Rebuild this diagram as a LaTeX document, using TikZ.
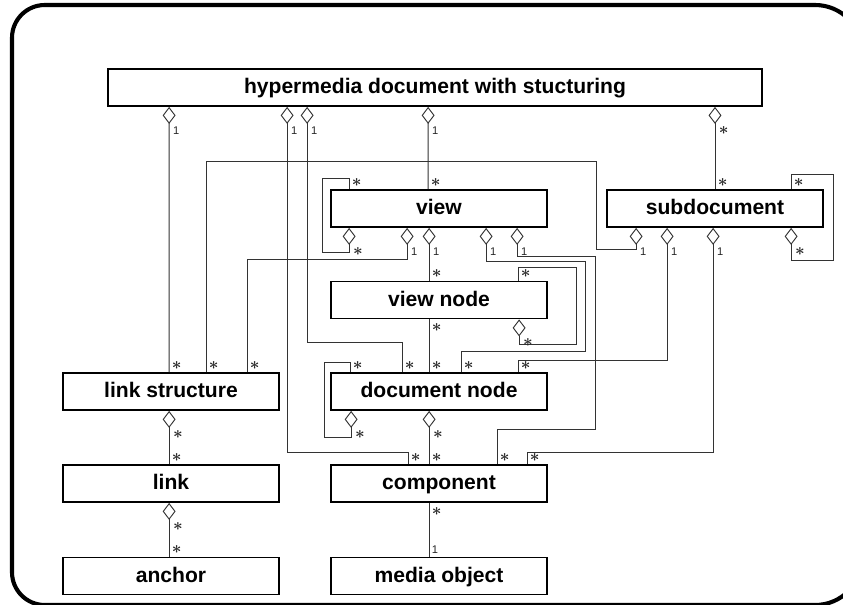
\documentclass[tikz,border=0pt]{standalone}
\usepackage{fontspec}
\usepackage{amsmath}
\usepackage{tikz}
\usetikzlibrary{arrows.meta,calc}
\newfontfamily\umlfont{Liberation Sans}
\newcommand{\many}{{\fontsize{15}{15}\selectfont$\boldsymbol{\ast}$}}

\begin{document}
\begin{tikzpicture}[x=0.03cm,y=-0.03cm,
  cls/.style={draw=black,line width=1.5pt,fill=white,minimum width=6.48cm,minimum height=1.11cm,inner sep=0pt,text height=13pt,text depth=2pt,font=\umlfont\bfseries\fontsize{18}{20}\selectfont},
  conn/.style={draw=black!80,line width=0.8pt},
  agg/.style={conn,{Diamond[open,length=14.5pt,width=11pt,line width=0.8pt]}-},
  mult/.style={inner sep=0.5pt,font=\umlfont\fontsize{9.5}{10}\selectfont,text=black!85},
  md/.style={mult,anchor=west,xshift=2.5pt,yshift=-20pt},
  mu/.style={mult,anchor=south west,xshift=1.5pt,yshift=1.5pt},
  ml/.style={mult,anchor=north west,xshift=1.5pt,yshift=-3pt}]
\useasboundingbox (0,0) rectangle (843,604);
\draw[line width=3.5pt] (12,300) [rounded corners=28pt] |- (500,5) [rounded corners=40pt] -| (862,300) |- (500,605) [rounded corners=28pt] -| (12,300);

\node[cls,minimum width=19.62cm] (hdoc) at (435,87.5) {hypermedia document with stucturing};
\node[cls] (view) at (439,208.5) {view};
\node[cls] (subd) at (715,208.5) {subdocument};
\node[cls] (vnode) at (439,300) {view node};
\node[cls] (lnks) at (171,391.5) {link structure};
\node[cls] (docn) at (439,391.5) {document node};
\node[cls] (link) at (171,483.5) {link};
\node[cls] (comp) at (439,483.5) {component};
\node[cls] (anch) at (171,576) {anchor};
\node[cls] (media) at (439,576) {media object};

% hypermedia document
\draw[agg] ($(hdoc.south west)+(62,0)$) node[md]{1} -- ($(lnks.north west)+(107,0)$) node[mu]{\many};
\draw[agg] ($(hdoc.south west)+(180,0)$) node[md]{1} |- ($(comp.north west)+(78,-12)$) -- ($(comp.north west)+(78,0)$) node[mu]{\many};
\draw[agg] ($(hdoc.south west)+(200,0)$) node[md]{1} |- ($(docn.north west)+(72,-30)$) -- ($(docn.north west)+(72,0)$) node[mu]{\many};
\draw[agg] ($(hdoc.south west)+(321,0)$) node[md]{1} -- ($(view.north west)+(98,0)$) node[mu]{\many};
\draw[agg] (hdoc.south -| subd.north) node[md]{\many} -- (subd.north) node[mu]{\many};

% view
\draw[agg] ($(view.south west)+(19,0)$) node[md]{\many} -- ++(0,25) -- ++(-27,0) |- ($(view.north west)+(19,-11)$) -- ($(view.north west)+(19,0)$) node[mu]{\many};
\draw[agg] ($(view.south west)+(77,0)$) node[md]{1} -- ++(0,32) -| ($(lnks.north west)+(185,0)$) node[mu]{\many};
\draw[agg] ($(view.south west)+(99,0)$) node[md]{1} -- ($(vnode.north west)+(99,0)$) node[mu]{\many};
\draw[agg] ($(view.south west)+(156,0)$) node[md]{1} -- ++(0,34) -- ++(99,0) |- ($(docn.north west)+(131,-21)$) -- ($(docn.north west)+(131,0)$) node[mu]{\many};
\draw[agg] ($(view.south west)+(187,0)$) node[md]{1} -- ++(0,29) -- ++(78,0) |- ($(comp.north west)+(167,-35)$) -- ($(comp.north west)+(167,0)$) node[mu]{\many};

% view node
\draw[agg] ($(vnode.south west)+(189,0)$) node[md]{\many} -- ++(0,25) -- ++(57,0) |- ($(vnode.north west)+(188,-13)$) -- ($(vnode.north west)+(188,0)$) node[mu]{\many};
\draw[conn] ($(vnode.south west)+(99,0)$) node[ml]{\many} -- ($(docn.north west)+(99,0)$) node[mu]{\many};

% subdocument
\draw[agg] ($(subd.south west)+(30,0)$) node[md]{1} -- ++(0,22) -- ++(-40,0) |- ($(lnks.north west)+(144,-211)$) -- ($(lnks.north west)+(144,0)$) node[mu]{\many};
\draw[agg] ($(subd.south west)+(61,0)$) node[md]{1} |- ($(docn.north west)+(188,-12)$) -- ($(docn.north west)+(188,0)$) node[mu]{\many};
\draw[agg] ($(subd.south west)+(107,0)$) node[md]{1} |- ($(comp.north west)+(197,-12)$) -- ($(comp.north west)+(197,0)$) node[mu]{\many};
\draw[agg] ($(subd.south west)+(185,0)$) node[md]{\many} -- ++(0,33) -- ++(42,0) |- ($(subd.north west)+(185,-15)$) -- ($(subd.north west)+(185,0)$) node[mu]{\many};

% document node and component
\draw[agg] ($(docn.south west)+(21,0)$) node[md]{\many} -- ++(0,27) -- ++(-27,0) |- ($(docn.north west)+(20,-10)$) -- ($(docn.north west)+(20,0)$) node[mu]{\many};
\draw[agg] ($(docn.south west)+(99,0)$) node[md]{\many} -- ($(comp.north west)+(99,0)$) node[mu]{\many};
\draw[conn] ($(comp.south west)+(99,0)$) node[ml]{\many} -- ($(media.north west)+(99,0)$) node[mu]{1};

% links
\draw[agg] ($(lnks.south west)+(107,0)$) node[md]{\many} -- ($(link.north west)+(107,0)$) node[mu]{\many};
\draw[agg] ($(link.south west)+(107,0)$) node[md]{\many} -- ($(anch.north west)+(107,0)$) node[mu]{\many};
\end{tikzpicture}
\end{document}
